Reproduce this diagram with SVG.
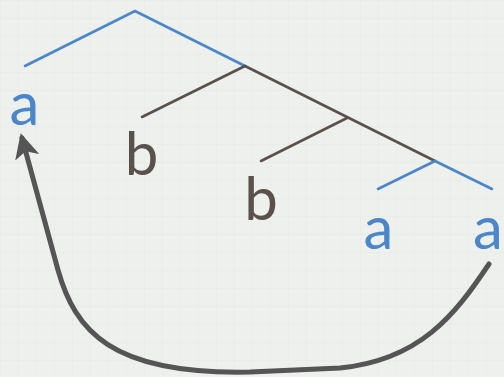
<svg xmlns="http://www.w3.org/2000/svg" width="504" height="377" viewBox="0 0 504 377">
<style>
.blue{stroke:#4a86c8;stroke-width:2.6;fill:none;stroke-linecap:round}
.dark{stroke:#5a514d;stroke-width:2.6;fill:none;stroke-linecap:round}
.t{font-family:Lato,"Open Sans",sans-serif;font-size:60px;text-anchor:middle}
.tb{fill:#4a86c8}
.td{fill:#5a514d}
</style>
<defs>
<pattern id="grid" width="18" height="18" patternUnits="userSpaceOnUse">
<rect width="18" height="18" fill="#eef0ee"/>
<path d="M0,0.5H18M0.5,0V18" stroke="#e9ece9" stroke-width="1"/>
</pattern>
<marker id="ah" viewBox="0 0 10 10" refX="8" refY="5" markerWidth="5" markerHeight="5" orient="auto" markerUnits="strokeWidth">
<path d="M0,0 L10,5 L0,10 L2.5,5 Z" fill="#555555"/>
</marker>
</defs>
<rect width="504" height="377" fill="url(#grid)"/>
<g id="connectors">
<polyline class="blue" points="25,66 135,11 245,66"/>
<line class="dark" x1="245" y1="66" x2="435" y2="161"/>
<line class="dark" x1="245" y1="66" x2="142" y2="117"/>
<line class="dark" x1="347" y1="118" x2="261" y2="161"/>
<line class="blue" x1="435" y1="161" x2="492" y2="189"/>
<line class="blue" x1="435" y1="161" x2="378" y2="189"/>
<path d="M489,264 C455,315 420,360 340,368 L250,372 C110,375 75,330 58,270 L22,138" fill="none" stroke="#555555" stroke-width="5" stroke-linecap="round" marker-end="url(#ah)"/>
</g>
<g id="n1"><text class="t tb" x="24.5" y="125">a</text></g>
<g id="n2"><text class="t td" x="141.5" y="175">b</text></g>
<g id="n3"><text class="t td" x="261" y="220">b</text></g>
<g id="n4"><text class="t tb" x="378.5" y="249">a</text></g>
<g id="n5"><text class="t tb" x="488" y="249">a</text></g>
</svg>
